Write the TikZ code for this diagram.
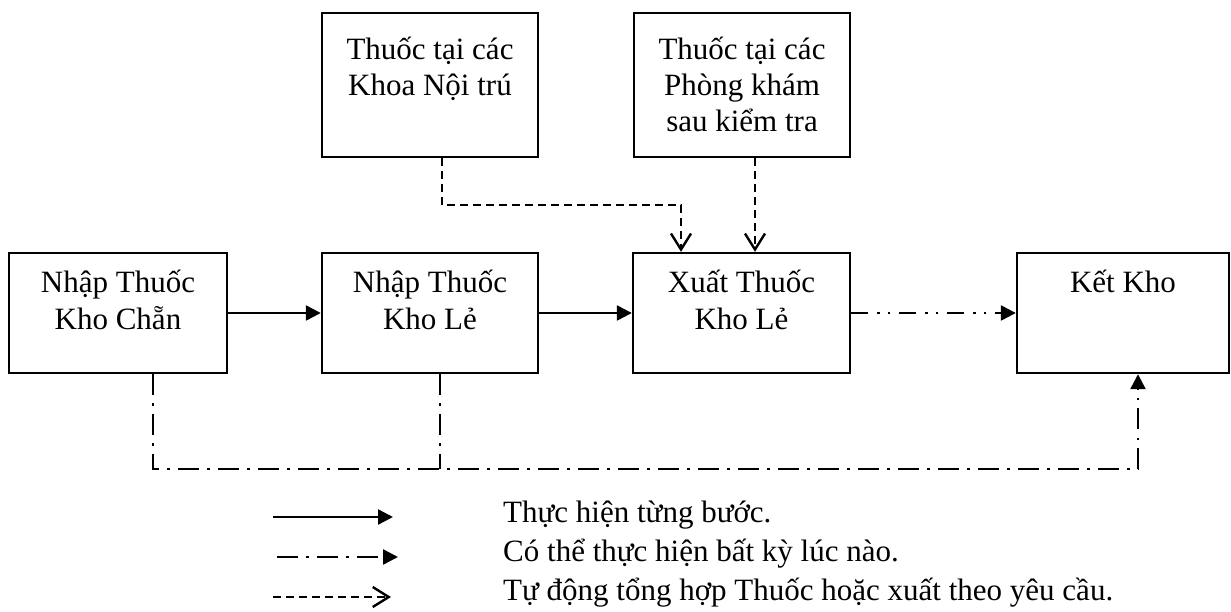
\documentclass[tikz,border=0pt]{standalone}
\usepackage{fontspec}
\setmainfont{Liberation Serif}
\usetikzlibrary{arrows.meta}
\begin{document}
\begin{tikzpicture}[x=1pt,y=-1pt,
  box/.style={draw, line width=2.4pt, minimum width=#1, minimum height=120pt, inner sep=0pt},
  txt/.style={font=\fontsize{31}{37}\selectfont, inner sep=0pt, anchor=base},
  toptxt/.style={font=\fontsize{31}{36}\selectfont, inner sep=0pt, anchor=base},
  legtxt/.style={font=\fontsize{31}{37}\selectfont, inner sep=0pt, anchor=base west},
  filltip/.style={-{Triangle[length=15pt,width=15pt]}},
  solidarr/.style={line width=2.4pt, filltip},
  dasharr/.style={line width=2.4pt, dash pattern=on 8pt off 5pt,
    -{Straight Barb[length=16pt,width=20pt,line width=2.4pt]}},
  dashdot/.style={line width=2.4pt, dash pattern=on 21pt off 8pt on 2.5pt off 8.5pt},
  dashdotdot/.style={line width=2.4pt, dash pattern=on 17pt off 9pt on 2.5pt off 8pt on 2.5pt off 9pt}
]
\useasboundingbox (0,0) rectangle (1231,612);

% boxes
\node[box=218pt] (b1) at (118,313) {};
\node[box=216pt] (b2) at (430,313) {};
\node[box=217pt] (b3) at (741.5,313) {};
\node[box=212pt] (b4) at (1123,313) {};
\node[box=216pt, minimum height=144pt] (t1) at (430,85) {};
\node[box=216pt, minimum height=144pt] (t2) at (742,85) {};

% texts
\node[txt] (b1t) at ([yshift=-41pt]b1.north) {\begin{tabular}[t]{@{}c@{}}Nhập Thuốc\\Kho Chẵn\end{tabular}};
\node[txt] (b2t) at ([yshift=-41pt]b2.north) {\begin{tabular}[t]{@{}c@{}}Nhập Thuốc\\Kho Lẻ\end{tabular}};
\node[txt] (b3t) at ([yshift=-41pt]b3.north) {\begin{tabular}[t]{@{}c@{}}Xuất Thuốc\\Kho Lẻ\end{tabular}};
\node[txt] (b4t) at ([yshift=-41pt]b4.north) {Kết Kho};
\node[toptxt] (t1t) at ([yshift=-48pt]t1.north) {\begin{tabular}[t]{@{}c@{}}Thuốc tại các\\Khoa Nội trú\end{tabular}};
\node[toptxt] (t2t) at ([yshift=-48pt]t2.north) {\begin{tabular}[t]{@{}c@{}}Thuốc tại các\\Phòng khám\\sau kiểm tra\end{tabular}};

% connectors
\draw[solidarr] (b1.east) -- (b2.west);
\draw[solidarr] (b2.east) -- (b3.west);
\draw[dashdotdot, filltip] (b3.east) -- (b4.west);
\draw[dasharr] ([xshift=12pt]t1.south) -- ++(0,47) -| ([xshift=-60.5pt]b3.north);
\draw[dasharr] ([xshift=13pt]t2.south) -- ([xshift=13.5pt]b3.north);
\draw[dashdot, filltip] ([xshift=35pt]b1.south) -- ++(0,95) -| ([xshift=15pt]b4.south);
\draw[dashdot] ([xshift=10pt]b2.south) -- ++(0,95);

% legend
\coordinate (l1s) at (273,517);
\coordinate (l1e) at (393,517);
\coordinate (l2s) at (277,557);
\coordinate (l2e) at (398,557);
\coordinate (l3s) at (273,597);
\coordinate (l3e) at (391,597);
\draw[solidarr] (l1s) -- (l1e);
\draw[dashdot, filltip] (l2s) -- (l2e);
\draw[dasharr] (l3s) -- (l3e);
\node[legtxt] (g1) at (503,522) {Thực hiện từng bước.};
\node[legtxt] (g2) at (503,561) {Có thể thực hiện bất kỳ lúc nào.};
\node[legtxt] (g3) at (503,600) {Tự động tổng hợp Thuốc hoặc xuất theo yêu cầu.};
\end{tikzpicture}
\end{document}
